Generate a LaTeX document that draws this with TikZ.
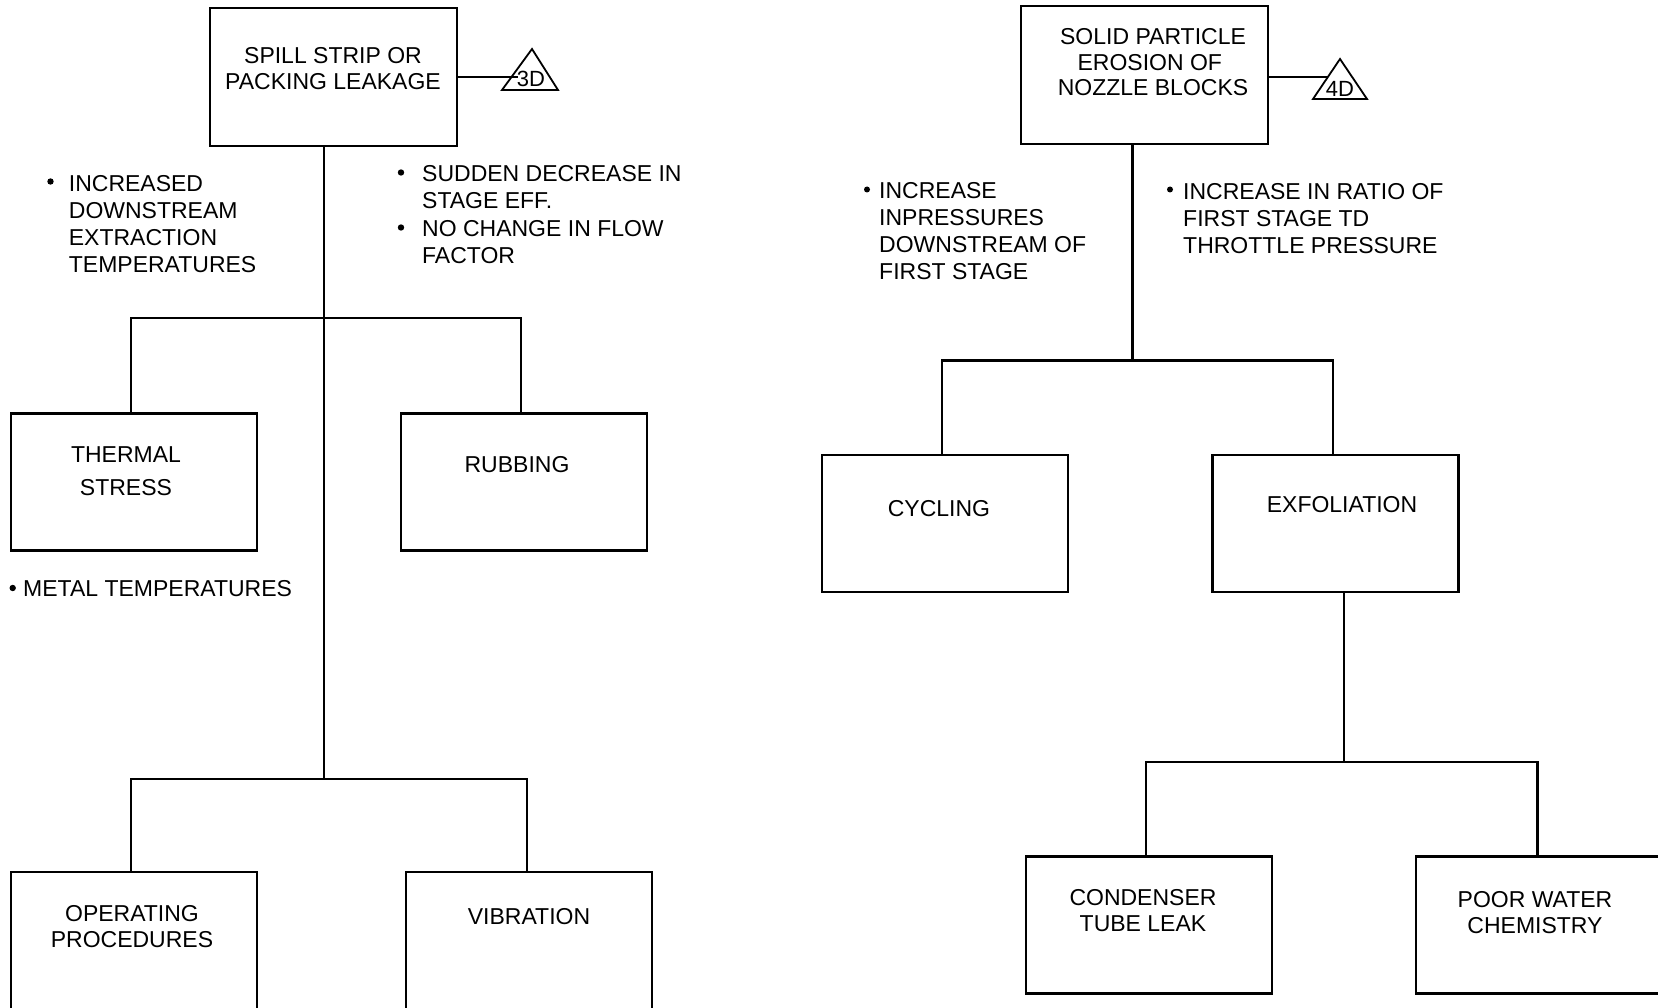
\documentclass[tikz,border=0pt]{standalone}
\usepackage{fontspec}
\setmainfont{Liberation Sans}
\usetikzlibrary{calc}
\begin{document}
\begin{tikzpicture}[x=1pt,y=-1pt,
  box/.style={draw, line width=2.4pt, minimum width=246pt, minimum height=137pt, inner sep=0pt},
  conn/.style={line width=2.2pt, line cap=rect},
  lbl/.style={inner sep=0pt, align=center, font=\fontsize{23}{25.5}\selectfont},
  lst/.style={inner sep=0pt, align=left, anchor=north west, font=\fontsize{23}{26.8}\selectfont},
  tag/.style={inner sep=0pt, font=\fontsize{22}{24}\selectfont},
  dot/.style={fill=black}]
\useasboundingbox (0,0) rectangle (1658,1008);
\clip (0,0) rectangle (1658,1008);

% ---------- left tree ----------
\node[box, minimum width=247pt, minimum height=138pt] (topL) at (333.5,77) {};
\node[lbl] (topLt) at (333,68.5) {SPILL STRIP OR\\PACKING LEAKAGE};

\coordinate (triLa) at (532,49);
\coordinate (triLb) at (502,90);
\coordinate (triLc) at (558,90);
\draw[line width=1.8pt, line join=miter] (triLa) -- (triLb) -- (triLc) -- cycle;
\coordinate (triLin) at ($(triLa)!0.5!(triLb)$);
\node[tag] (triLt) at (531,79) {3D};
\draw[conn] (topL.east) -- (triLin |- topL.east);

\node[box] (thermal) at (133.8,482) {};
\node[lbl] (thermalt) at (126,471) {THERMAL\\[8pt]STRESS};
\node[box] (rubbing) at (524,482) {};
\node[lbl] (rubbingt) at (517,465) {RUBBING};
\node[box, minimum height=170pt] (operating) at (133.8,957) {};
\node[lbl] (operatingt) at (132,926.5) {OPERATING\\PROCEDURES};
\node[box, minimum height=170pt] (vibration) at (529,957) {};
\node[lbl] (vibrationt) at (529,917) {VIBRATION};

\coordinate (stemL) at (323.6,0);
\coordinate (b1l) at (131,318);
\coordinate (b1r) at (521,318);
\coordinate (b2l) at (131,779);
\coordinate (b2r) at (527,779);
\draw[conn] (stemL |- topL.south) -- (stemL |- b2l);
\draw[conn] (b1l |- thermal.north) -- (b1l) -- (b1r) -- (b1r |- rubbing.north);
\draw[conn] (b2l |- operating.north) -- (b2l) -- (b2r) -- (b2r |- vibration.north);

% symptom lists
\fill[dot] (50.5,181.5) circle (3.2pt);
\node[lst] (listA) at (68.7,175.7) {INCREASED\\DOWNSTREAM\\EXTRACTION\\TEMPERATURES};
\fill[dot] (401,172.5) circle (3.2pt);
\node[lst] (listB1) at (422,165.7) {SUDDEN DECREASE IN\\STAGE EFF.};
\fill[dot] (401,227.5) circle (3.2pt);
\node[lst] (listB2) at (422,220.7) {NO CHANGE IN FLOW\\FACTOR};
\fill[dot] (12.7,588) circle (3.2pt);
\node[lst] (listC) at (23,580.7) {METAL TEMPERATURES};

% ---------- right tree ----------
\node[box, minimum width=247pt, minimum height=138pt] (topR) at (1144.5,75) {};
\node[lbl] (topRt) at (1153,62.5) {SOLID PARTICLE\\EROSION OF\hphantom{I}\\NOZZLE BLOCKS};

\coordinate (triRa) at (1340,59);
\coordinate (triRb) at (1313,99);
\coordinate (triRc) at (1367,99);
\draw[line width=1.8pt, line join=miter] (triRa) -- (triRb) -- (triRc) -- cycle;
\node[tag] (triRt) at (1340,89) {4D};
\coordinate (triRin) at (1327,77);
\draw[conn] (topR.east |- triRin) -- (triRin);

\node[box] (cycling) at (944.8,523.5) {};
\node[lbl] (cyclingt) at (939,509) {CYCLING};
\node[box] (exfol) at (1335.5,523.5) {};
\node[lbl] (exfolt) at (1342,505) {EXFOLIATION};
\node[box] (condenser) at (1149,925) {};
\node[lbl] (condensert) at (1143,910.5) {CONDENSER\\TUBE LEAK};
\node[box] (water) at (1539,925) {};
\node[lbl] (watert) at (1535,912.5) {POOR WATER\\CHEMISTRY};

\coordinate (stemR) at (1132.5,0);
\coordinate (b3l) at (942,360.6);
\coordinate (b3r) at (1333,360.6);
\coordinate (stemE) at (1344,0);
\coordinate (b4l) at (1146,762);
\coordinate (b4r) at (1537.5,762);
\draw[conn] (stemR |- topR.south) -- (stemR |- b3l);
\draw[conn] (b3l |- cycling.north) -- (b3l) -- (b3r) -- (b3r |- exfol.north);
\draw[conn] (stemE |- exfol.south) -- (stemE |- b4l);
\draw[conn] (b4l |- condenser.north) -- (b4l) -- (b4r) -- (b4r |- water.north);

\fill[dot] (867,189.5) circle (3pt);
\node[lst] (listD) at (879,182.7) {INCREASE\\INPRESSURES\\DOWNSTREAM OF\\FIRST STAGE};
\fill[dot] (1170,189.5) circle (3pt);
\node[lst] (listE) at (1183,183.7) {INCREASE IN RATIO OF\\FIRST STAGE TD\\THROTTLE PRESSURE};
\end{tikzpicture}
\end{document}
